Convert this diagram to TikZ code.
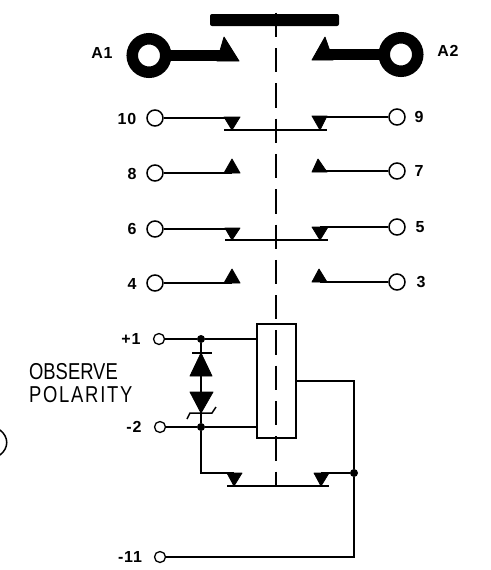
\documentclass[tikz,border=0pt]{standalone}
\usepackage{fontspec}
\setmainfont{Liberation Sans}
\tikzset{
  ring/.style={circle,draw,line width=11.5pt,minimum size=33.5pt,inner sep=0pt,outer sep=0pt},
  term/.style={circle,draw,line width=1.5pt,minimum size=16pt,inner sep=0pt},
  smallterm/.style={circle,draw,line width=1.3pt,minimum size=11pt,inner sep=0pt},
  dot/.style={circle,fill,minimum size=8pt,inner sep=0pt},
  lbl/.style={inner sep=0pt,font=\fontsize{16}{18}\selectfont\bfseries\addfontfeature{LetterSpace=5}},
  wire/.style={line width=1.5pt},
  tip/.style={fill=black,draw=black,line width=0.8pt,line join=round},
  note/.style={inner sep=0pt,anchor=west,xscale=0.8,font=\fontsize{23}{25}\selectfont}
}
\begin{document}
\begin{tikzpicture}[x=1pt,y=-1pt]
      \useasboundingbox (0,0) rectangle (490,570);

      % Actuator bar and centre line
      \fill[rounded corners=2pt] (210,14) rectangle (339,26);
      \draw[wire,dash pattern=on 24.3pt off 11pt] (276,12.7) -- (276,486);

      % Main terminals
      \node[ring] (tA1) at (149,55.5) {};
      \node[ring] (tA2) at (401,54.5) {};
      \coordinate (cA1) at (224,55.5);
      \coordinate (cA2) at (325,54.5);
      \draw[line width=11pt] (tA1) -- (cA1);
      \draw[line width=11pt] (tA2) -- (cA2);
      \filldraw[tip] (224,37) -- (239,61) -- (217,61) -- cycle;
      \filldraw[tip] (325,37) -- (333,60) -- (312,60) -- cycle;
      \node[lbl] (lA1) at (102,53) {A1};
      \node[lbl] (lA2) at (448,51) {A2};

      % Normally open contacts
      \node[term] (t10) at (155,118) {};
      \node[term] (t9) at (397,117) {};
      \node[term] (t6) at (155,229) {};
      \node[term] (t5) at (397,227) {};
      \coordinate (c10) at (232,118);
      \coordinate (c9) at (320,117);
      \coordinate (c6) at (232,229);
      \coordinate (c5) at (320,227);
      \draw[wire] (t10) -- (c10);
      \draw[wire] (t9) -- (c9);
      \draw[wire] (t6) -- (c6);
      \draw[wire] (t5) -- (c5);
      \filldraw[tip] (224,117) -- (240,117) -- (232,130) -- cycle;
      \filldraw[tip] (312,116) -- (327,116) -- (320,130) -- cycle;
      \filldraw[tip] (225,228) -- (240,228) -- (232,240) -- cycle;
      \filldraw[tip] (312,227) -- (328,227) -- (320,240) -- cycle;
      \coordinate (b1l) at (224,130);
      \coordinate (b1r) at (327,130);
      \coordinate (b2l) at (225,240);
      \coordinate (b2r) at (328,240);
      \draw[wire] (b1l) -- (b1r);
      \draw[wire] (b2l) -- (b2r);

      % Normally closed contacts
      \node[term] (t8) at (155,173) {};
      \node[term] (t7) at (397,171) {};
      \node[term] (t4) at (155,283) {};
      \node[term] (t3) at (397,282) {};
      \coordinate (c8) at (232,173);
      \coordinate (c7) at (320,171);
      \coordinate (c4) at (232,283);
      \coordinate (c3) at (320,282);
      \draw[wire] (t8) -- (c8);
      \draw[wire] (t7) -- (c7);
      \draw[wire] (t4) -- (c4);
      \draw[wire] (t3) -- (c3);
      \filldraw[tip] (232,159) -- (240,173) -- (224,173) -- cycle;
      \filldraw[tip] (318,159) -- (327,172) -- (312,172) -- cycle;
      \filldraw[tip] (232,269) -- (240,283) -- (224,283) -- cycle;
      \filldraw[tip] (319,269) -- (327,282) -- (312,282) -- cycle;

      % Terminal numbers
      \node[lbl] (l10) at (127,119) {10};
      \node[lbl] (l9) at (419,117) {9};
      \node[lbl] (l8) at (132,174) {8};
      \node[lbl] (l7) at (419,171) {7};
      \node[lbl] (l6) at (132,229) {6};
      \node[lbl] (l5) at (420,227) {5};
      \node[lbl] (l4) at (132,284) {4};
      \node[lbl] (l3) at (421,282) {3};

      % Coil
      \node[draw,line width=1.5pt,minimum width=39pt,minimum height=114pt,inner sep=0pt] (coil) at (276.5,381) {};
      \node[smallterm] (p1) at (159,339) {};
      \node[smallterm] (p2) at (160,427) {};
      \node[smallterm] (p11) at (160,557) {};
      \node[dot] (j1) at (201,339) {};
      \node[dot] (j2) at (201,427) {};
      \node[dot] (j3) at (354,473) {};
      \node[lbl] (l1) at (131,339) {+1};
      \node[lbl] (l2) at (134,427) {-2};
      \node[lbl] (l11) at (130,557) {-11};
      \draw[wire] (p1) -- (j1) -- (j1 -| coil.west);
      \draw[wire] (p2) -- (j2) -- (j2 -| coil.west);

      % Diodes
      \draw[line width=2pt] (j1) -- (j2);
      \filldraw[tip] (201,353) -- (212,376) -- (190,376) -- cycle;
      \filldraw[tip] (190,392) -- (213,392) -- (201,413) -- cycle;
      \draw[wire] (192,353) -- (212,353);
      \draw[wire] (187,419) -- (190,413) -- (212,413) -- (216,407);

      % Lower contact
      \coordinate (c11) at (234,473);
      \coordinate (c12) at (321,473);
      \coordinate (b3l) at (227,486);
      \coordinate (b3r) at (329,486);
      \coordinate (k1) at (354,381);
      \coordinate (k2) at (354,557);
      \draw[wire] (j2) |- (c11);
      \draw[wire] (c12) -- (j3);
      \filldraw[tip] (227,473) -- (242,473) -- (234,486) -- cycle;
      \filldraw[tip] (314,473) -- (329,473) -- (321,486) -- cycle;
      \draw[wire] (b3l) -- (b3r);
      \draw[wire] (k1 -| coil.east) -- (k1) -- (j3) -- (k2) -- (p11);

      % Note
      \node[note] (obs) at (29,372) {OBSERVE};
      \node[note] (pol) at (29,395) {\addfontfeature{LetterSpace=9.5}POLARITY};
      \draw[line width=1.5pt] (0,430) .. controls (9,437) and (9,448) .. (0,455);
    \end{tikzpicture}
\end{document}
